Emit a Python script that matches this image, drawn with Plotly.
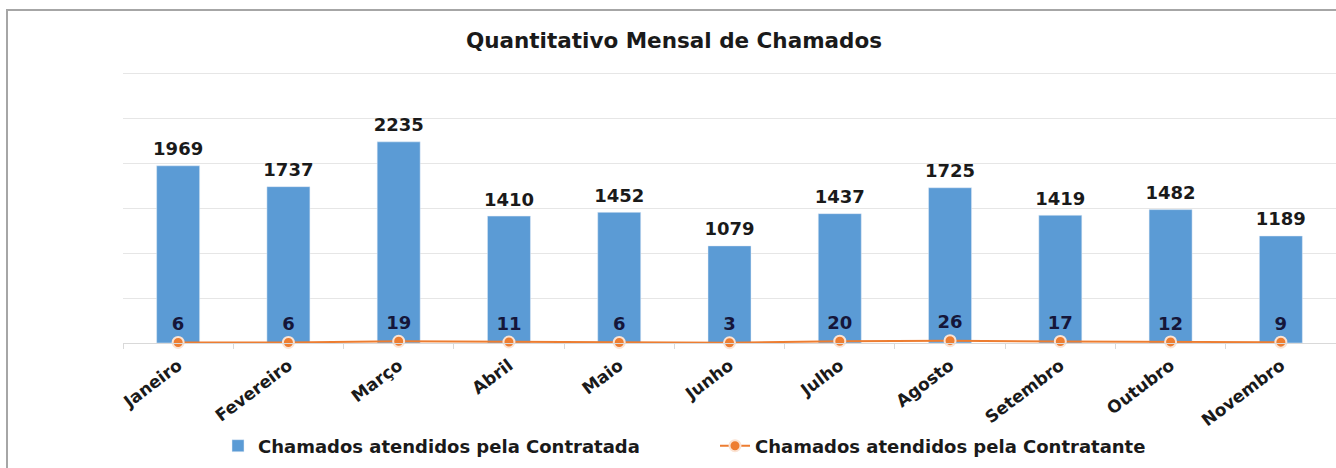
import plotly.graph_objects as go

meses = ["Janeiro", "Fevereiro", "Março", "Abril", "Maio", "Junho",
         "Julho", "Agosto", "Setembro", "Outubro", "Novembro"]
contratada = [1969, 1737, 2235, 1410, 1452, 1079, 1437, 1725, 1419, 1482, 1189]
contratante = [6, 6, 19, 11, 6, 3, 20, 26, 17, 12, 9]

bar_color = "#5B9BD5"
line_color = "#ED7D31"

W, H = 1336, 468
plot_left, plot_top, plot_bottom = 123, 68, 343
plot_w = W - plot_left
plot_h = plot_bottom - plot_top
# 3000 sits on the y=73 gridline, a few px under the plot top so it gets drawn
y_max = 3000 * plot_h / (plot_bottom - 73)

fig = go.Figure()

fig.add_trace(go.Bar(
    x=meses,
    y=contratada,
    name="Chamados atendidos pela Contratada",
    marker=dict(color=bar_color),
    width=0.39,
))

# value labels over the bars, a bit higher than plotly's "outside" text
fig.add_trace(go.Scatter(
    x=meses,
    y=contratada,
    mode="markers+text",
    marker=dict(size=8, opacity=0),
    text=contratada,
    textposition="top center",
    textfont=dict(family="DejaVu Sans", size=18, color="#1a1a1a", weight="bold"),
    showlegend=False,
    hoverinfo="skip",
    cliponaxis=False,
))

fig.add_trace(go.Scatter(
    x=meses,
    y=contratante,
    name="Chamados atendidos pela Contratante",
    mode="lines+markers+text",
    line=dict(color=line_color, width=2),
    marker=dict(color=line_color, size=11, line=dict(color="#fbe3d3", width=2)),
    text=contratante,
    textposition="top center",
    textfont=dict(family="DejaVu Sans", size=18, color="#15163a", weight="bold"),
    cliponaxis=False,
))

fig.update_layout(
    width=W,
    height=H,
    margin=dict(l=plot_left, r=0, t=plot_top, b=H - plot_bottom),
    paper_bgcolor="white",
    plot_bgcolor="white",
    title=dict(
        text="<b>Quantitativo Mensal de Chamados</b>",
        x=674 / W, xanchor="center",
        y=1 - 40 / H, yanchor="middle",
        font=dict(family="DejaVu Sans", size=21.5, color="#1a1a1a"),
    ),
    xaxis=dict(
        range=[-0.5, len(meses) - 0.5],
        tickangle=-37,
        tickfont=dict(family="DejaVu Sans", size=17, color="#1a1a1a", weight="bold"),
        ticklabelstandoff=5,
        showline=True, linecolor="#d9d9d9", linewidth=1,
        ticks="outside", ticklen=5, tickcolor="#d9d9d9",
        tickson="boundaries",
        showgrid=False,
    ),
    yaxis=dict(
        range=[0, y_max],
        dtick=500,
        showticklabels=False,
        gridcolor="#e6e6e6",
        zeroline=False,
    ),
    legend=dict(
        orientation="h",
        x=(218 - plot_left) / plot_w, xanchor="left",
        y=(plot_bottom - 446) / plot_h, yanchor="middle",
        font=dict(family="DejaVu Sans", size=18, color="#1a1a1a", weight="bold"),
        entrywidth=452, entrywidthmode="pixels",
    ),
    shapes=[dict(
        type="rect", xref="paper", yref="paper",
        x0=(7 - plot_left) / plot_w, x1=1.02,
        y0=-0.6, y1=(plot_bottom - 10) / plot_h,
        line=dict(color="#a6a6a6", width=2),
        layer="below",
    )],
)

fig.write_html("out.html", config={"displayModeBar": False},
               post_script="document.body.style.margin='0';")
